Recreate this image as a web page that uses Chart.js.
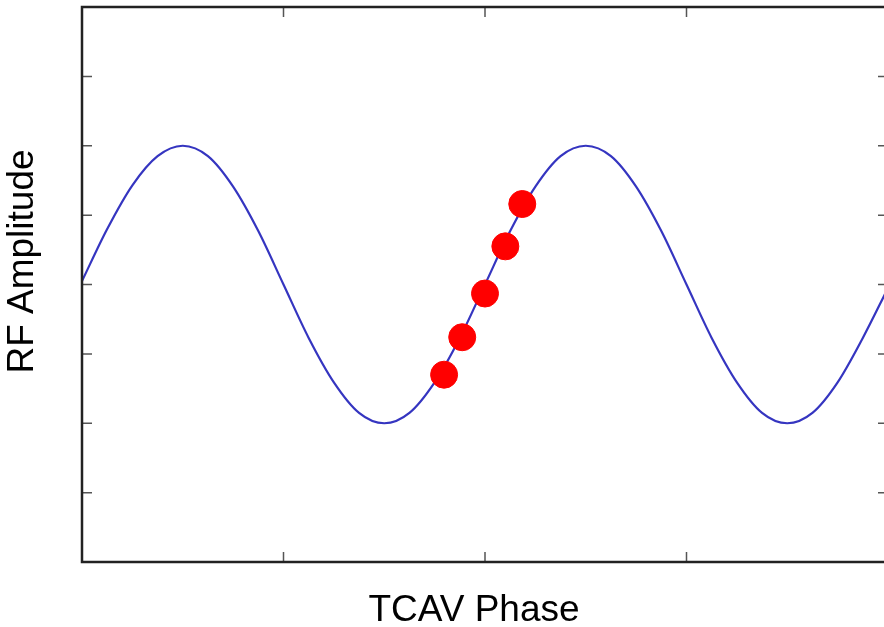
<!DOCTYPE html>
<html>
<head>
<meta charset="utf-8">
<script src="https://cdn.jsdelivr.net/npm/chart.js@4.4.1/dist/chart.umd.min.js"></script>
<style>
  html, body { margin: 0; padding: 0; background: #fff; overflow: hidden; }
  #rf-chart { display: block; }
</style>
</head>
<body>
<canvas id="rf-chart" width="892" height="627"></canvas>
<script>
// curve, every 1/8 of a phase unit
const phase = [0, 0.125, 0.25, 0.375, 0.5, 0.625, 0.75, 0.875, 1,
    1.125, 1.25, 1.375, 1.5, 1.625, 1.75, 1.875, 2,
    2.125, 2.25, 2.375, 2.5, 2.625, 2.75, 2.875, 3,
    3.125, 3.25, 3.375, 3.5, 3.625, 3.75, 3.875, 4];
const amplitude = [0.05, 0.8, 1.43, 1.85, 2, 1.85, 1.41, 0.77, 0,
    -0.77, -1.41, -1.85, -2, -1.85, -1.41, -0.77, 0,
    0.77, 1.41, 1.85, 2, 1.85, 1.41, 0.77, 0,
    -0.77, -1.41, -1.85, -2, -1.85, -1.41, -0.77, -0.05];

// red sample points
const samplePhase = [1.797, 1.887, 2.0, 2.101, 2.185];
const sampleAmp = [-1.30, -0.76, -0.13, 0.55, 1.16];

const xTicks = [1, 2, 3];
const yTicks = [-3, -2, -1, 0, 1, 2, 3];

const frame = {
    id: 'frame',
    afterDraw(chart) {
        const {ctx, chartArea: a, scales} = chart;
        ctx.save();
        // tick marks, inward on every side
        ctx.strokeStyle = '#555';
        ctx.lineWidth = 1.5;
        ctx.beginPath();
        xTicks.forEach(v => {
            const px = scales.x.getPixelForValue(v);
            ctx.moveTo(px, a.bottom); ctx.lineTo(px, a.bottom - 10);
            ctx.moveTo(px, a.top); ctx.lineTo(px, a.top + 10);
        });
        yTicks.forEach(v => {
            const py = scales.y.getPixelForValue(v);
            ctx.moveTo(a.left, py); ctx.lineTo(a.left + 10, py);
            ctx.moveTo(a.right, py); ctx.lineTo(a.right - 10, py);
        });
        ctx.stroke();
        // box
        ctx.strokeStyle = '#222';
        ctx.lineWidth = 2.5;
        ctx.strokeRect(a.left, a.top, a.right - a.left, a.bottom - a.top);
        // titles
        ctx.fillStyle = '#000';
        ctx.font = '37px "Liberation Sans", Arial, sans-serif';
        ctx.textAlign = 'center';
        ctx.textBaseline = 'alphabetic';
        ctx.fillText('TCAV Phase', (a.left + a.right) / 2 - 11, 621);
        ctx.translate(33, (a.top + a.bottom) / 2 - 23);
        ctx.rotate(-Math.PI / 2);
        ctx.fillText('RF Amplitude', 0, 0);
        ctx.restore();
    }
};

new Chart(document.getElementById('rf-chart'), {
    type: 'scatter',
    data: {
        datasets: [
            {
                label: 'Samples',
                data: samplePhase.map((x, i) => ({x: x, y: sampleAmp[i]})),
                backgroundColor: '#ff0000',
                borderColor: '#ff0000',
                pointRadius: 13.5,
                pointHoverRadius: 13.5,
                order: 0
            },
            {
                label: 'RF',
                type: 'line',
                data: phase.map((x, i) => ({x: x, y: amplitude[i]})),
                borderColor: '#3535c0',
                borderWidth: 2.2,
                pointRadius: 0,
                fill: false,
                cubicInterpolationMode: 'monotone',
                order: 1
            }
        ]
    },
    options: {
        responsive: false,
        animation: false,
        layout: {
            autoPadding: false,
            padding: {left: 82, top: 7, right: 4, bottom: 65}
        },
        scales: {
            x: {type: 'linear', min: 0, max: 4, display: false},
            y: {type: 'linear', min: -4, max: 4, display: false}
        },
        plugins: {
            legend: {display: false},
            tooltip: {enabled: false}
        }
    },
    plugins: [frame]
});
</script>
</body>
</html>
